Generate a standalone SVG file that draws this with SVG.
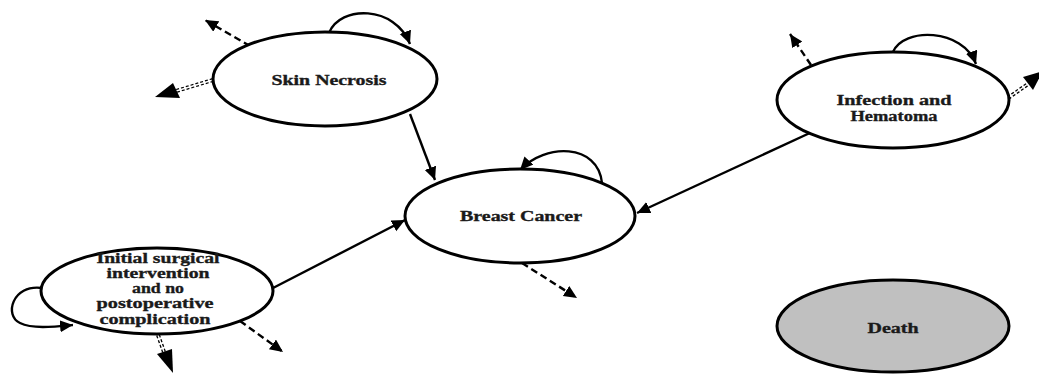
<svg xmlns="http://www.w3.org/2000/svg" width="1039" height="374" viewBox="0 0 1039 374">
<defs>
<style>
.node{fill:#fff;stroke:#000;stroke-width:3}
.dead{fill:#c0c0c0;stroke:#000;stroke-width:3}
.lbl{font-family:"Liberation Serif","Times New Roman",serif;font-weight:bold;font-size:15px;text-anchor:middle;fill:#1a1a1a;stroke:#1a1a1a;stroke-width:0.35}
.solid{fill:none;stroke:#000;stroke-width:2.4}
.dash{fill:none;stroke:#000;stroke-width:2.4;stroke-dasharray:7,4}
.dd{fill:none;stroke:#000;stroke-width:4;stroke-dasharray:3,2}
.ddw{fill:none;stroke:#fff;stroke-width:1.4}
.head{fill:#000}
</style>
<marker id="ah" markerUnits="userSpaceOnUse" markerWidth="16" markerHeight="14" refX="13" refY="6" orient="auto">
<path d="M0,0 L13,6 L0,12 z" fill="#000"/>
</marker>
</defs>
<g id="connectors">
<path class="solid" d="M329,33 C340,5 395,5 410,44" marker-end="url(#ah)"/>
<path class="dash" d="M250,46 L205,20" marker-end="url(#ah)"/>
<path class="dd" d="M213,80 L176,91"/>
<path class="ddw" d="M213,80 L176,91"/>
<polygon class="head" points="155,97 180,98 173,83"/>
<path class="solid" d="M410,114 L435,180" marker-end="url(#ah)"/>
<path class="solid" d="M812,132 L637,213" marker-end="url(#ah)"/>
<path class="solid" d="M602,183 C598,143 545,143 520,170" marker-end="url(#ah)"/>
<path class="dash" d="M522,263 L577,298" marker-end="url(#ah)"/>
<path class="solid" d="M273,288 L405,220" marker-end="url(#ah)"/>
<path class="solid" d="M42,288 C12,284 4,316 20,323 C32,329 52,327 73,325" marker-end="url(#ah)"/>
<path class="dash" d="M240,321 L283,352" marker-end="url(#ah)"/>
<path class="dd" d="M158,335 L164,352"/>
<path class="ddw" d="M158,335 L164,352"/>
<polygon class="head" points="173,373 172,349 157,354"/>
<path class="solid" d="M893,52 C903,27 963,28 976,64" marker-end="url(#ah)"/>
<path class="dash" d="M811,65 L790,34" marker-end="url(#ah)"/>
<path class="dd" d="M1008,98 L1028,84"/>
<path class="ddw" d="M1008,98 L1028,84"/>
<polygon class="head" points="1043,71 1033,90 1023,77"/>
</g>
<g id="skin-necrosis">
<ellipse class="node" cx="325" cy="79" rx="112" ry="47"/>
<text class="lbl" x="329" y="85" textLength="115" lengthAdjust="spacingAndGlyphs">Skin Necrosis</text>
</g>
<g id="infection-hematoma">
<ellipse class="node" cx="893" cy="100" rx="116" ry="48"/>
<text class="lbl" x="894" y="105" textLength="115" lengthAdjust="spacingAndGlyphs">Infection and</text>
<text class="lbl" x="894" y="121" textLength="87" lengthAdjust="spacingAndGlyphs">Hematoma</text>
</g>
<g id="breast-cancer">
<ellipse class="node" cx="520" cy="216" rx="115" ry="47"/>
<text class="lbl" x="521" y="221" textLength="122" lengthAdjust="spacingAndGlyphs">Breast Cancer</text>
</g>
<g id="initial">
<ellipse class="node" cx="157" cy="291" rx="116" ry="43"/>
<text class="lbl" x="158" y="263" textLength="123" lengthAdjust="spacingAndGlyphs">Initial surgical</text>
<text class="lbl" x="158" y="278" textLength="103" lengthAdjust="spacingAndGlyphs">intervention</text>
<text class="lbl" x="158" y="293" textLength="52" lengthAdjust="spacingAndGlyphs">and no</text>
<text class="lbl" x="155" y="308" textLength="117" lengthAdjust="spacingAndGlyphs">postoperative</text>
<text class="lbl" x="155" y="324" textLength="111" lengthAdjust="spacingAndGlyphs">complication</text>
</g>
<g id="death">
<ellipse class="dead" cx="893" cy="326" rx="116" ry="46"/>
<text class="lbl" x="893" y="333" textLength="51" lengthAdjust="spacingAndGlyphs">Death</text>
</g>
</svg>
